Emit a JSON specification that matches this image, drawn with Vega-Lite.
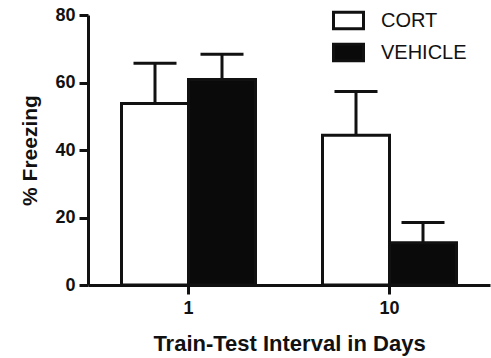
{
  "$schema": "https://vega.github.io/schema/vega-lite/v6.json",
  "width": 402,
  "height": 270,
  "autosize": {"type": "none"},
  "padding": {"left": 88, "top": 15, "right": 1, "bottom": 73},
  "background": "white",
  "config": {
    "view": {"stroke": null},
    "font": "Liberation Sans",
    "axis": {"grid": false, "domainColor": "#111", "domainWidth": 3, "tickColor": "#111", "tickWidth": 3, "tickSize": 9, "labelFont": "Liberation Sans", "labelFontWeight": "bold", "labelFontSize": 18, "labelColor": "#111", "titleFont": "Liberation Sans", "titleFontWeight": "bold", "titleColor": "#111"}
  },
  "data": {"values": [
    {"day": "1", "group": "CORT", "value": 53.8, "upper": 65.7},
    {"day": "1", "group": "VEHICLE", "value": 60.9, "upper": 68.4},
    {"day": "10", "group": "CORT", "value": 44.4, "upper": 57.3},
    {"day": "10", "group": "VEHICLE", "value": 12.5, "upper": 18.5}
  ]},
  "encoding": {
    "x": {"field": "day", "type": "ordinal", "sort": ["1", "10"],
      "scale": {"paddingInner": 0, "paddingOuter": 0},
      "axis": {"title": "Train-Test Interval in Days", "titleFontSize": 22, "titlePadding": 16, "labelAngle": 0, "labelPadding": 5}},
    "xOffset": {"field": "group", "type": "nominal", "sort": ["CORT", "VEHICLE"], "scale": {"paddingInner": 0, "paddingOuter": 0.5}}
  },
  "layer": [
    {
      "mark": {"type": "bar", "stroke": "#111", "strokeWidth": 3},
      "encoding": {
        "y": {"field": "value", "type": "quantitative", "scale": {"domain": [0, 80]},
          "axis": {"title": "% Freezing", "titleFontSize": 21, "titlePadding": 14, "values": [0, 20, 40, 60, 80], "labelPadding": 4}},
        "fill": {"field": "group", "type": "nominal", "sort": ["CORT", "VEHICLE"],
          "scale": {"domain": ["CORT", "VEHICLE"], "range": ["white", "#0a0a0a"]},
          "legend": {"title": null, "orient": "none", "legendX": 244, "legendY": -11,
            "symbolType": "M-1,-0.55L1,-0.55L1,0.55L-1,0.55Z", "symbolSize": 900,
            "symbolStrokeColor": "#111", "symbolStrokeWidth": 3,
            "labelFont": "Liberation Sans", "labelFontSize": 20, "labelColor": "#111", "labelOffset": 16, "rowPadding": 1, "padding": 0}}
      }
    },
    {
      "mark": {"type": "rule", "stroke": "#111", "strokeWidth": 3},
      "encoding": {
        "y": {"field": "value", "type": "quantitative"},
        "y2": {"field": "upper"}
      }
    },
    {
      "mark": {"type": "tick", "color": "#111", "thickness": 3, "size": 43, "orient": "horizontal", "opacity": 1},
      "encoding": {
        "y": {"field": "upper", "type": "quantitative"}
      }
    }
  ]
}
